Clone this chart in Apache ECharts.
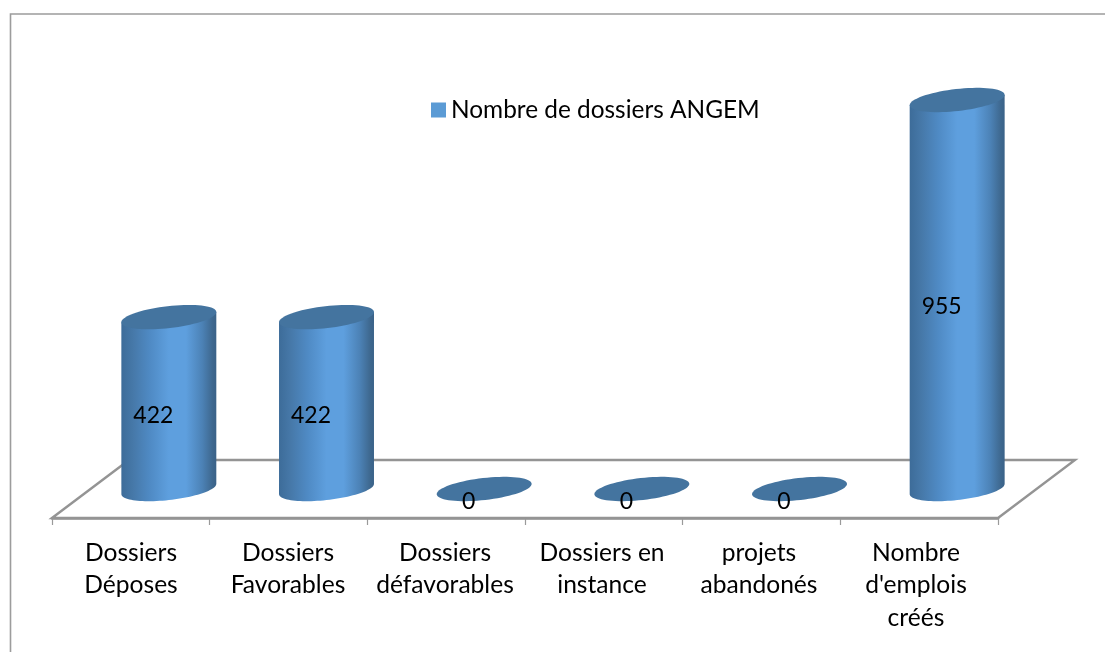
<!DOCTYPE html>
<html><head><meta charset="utf-8">
<style>html,body{margin:0;padding:0;background:#fff}#c{width:1105px;height:652px}</style>
<script src="https://cdn.jsdelivr.net/npm/echarts@6/dist/echarts.min.js"></script>
</head><body><div id="c"></div>
<script>
const categories = ["Dossiers\nDéposes","Dossiers\nFavorables","Dossiers\ndéfavorables","Dossiers en\ninstance","projets\nabandonés","Nombre\nd'emplois\ncréés"];
const values = [422,422,0,0,0,955];
const seriesName = "Nombre de dossiers ANGEM";
const FONT = "Lato, Carlito, sans-serif";

const chart = echarts.init(document.getElementById('c'), null, {renderer:'canvas'});

function ellipsePoint(cx, cy, a, b, th, t){
  return [cx + a*Math.cos(t)*Math.cos(th) - b*Math.sin(t)*Math.sin(th),
          cy + a*Math.cos(t)*Math.sin(th) + b*Math.sin(t)*Math.cos(th)];
}
function renderCylinder(params, api){
  const idx = api.value(0), v = api.value(1);
  const top = api.coord([idx, v]), base = api.coord([idx, 0]);
  const band = api.size([1,0])[0];
  const a = band*0.303, b = 11, th = -6.5*Math.PI/180;
  const t0 = Math.atan2(-b*Math.sin(th), a*Math.cos(th));
  const ring = [];
  for(let i=0;i<72;i++) ring.push(ellipsePoint(top[0],top[1],a,b,th,i/72*2*Math.PI));
  const children = [];
  if(v>0){
    const body = [];
    body.push(ellipsePoint(top[0],top[1],a,b,th,t0));
    for(let i=0;i<=48;i++) body.push(ellipsePoint(base[0],base[1],a,b,th,t0+i/48*Math.PI));
    body.push(ellipsePoint(top[0],top[1],a,b,th,t0+Math.PI));
    children.push({type:'polygon',shape:{points:body},style:{
      fill:new echarts.graphic.LinearGradient(0,0,1,0,[
        {offset:0,color:'#3d6c99'},{offset:0.12,color:'#4678a8'},{offset:0.3,color:'#4f8ac4'},
        {offset:0.5,color:'#5e9fde'},{offset:0.68,color:'#5e9fde'},{offset:0.85,color:'#4c82b6'},
        {offset:0.96,color:'#3e688f'},{offset:1,color:'#3a6288'}])}});
  }
  children.push({type:'polygon',shape:{points:ring},style:{fill:'#44749f'}});
  children.push({type:'text',style:{text:String(v),x:top[0]-15.5,y:(top[1]+base[1])/2+12.5,
    align:'center',verticalAlign:'middle',fill:'#000',font:'23px '+FONT}});
  return {type:'group',children};
}
function renderFloor(params){
  const c = params.coordSys, dx=77, dy=58;
  const fy = c.y+c.height, L=c.x, R=c.x+c.width;
  return {type:'group',silent:true,children:[
    {type:'polygon',shape:{points:[[L,fy],[L+dx,fy-dy],[R+dx,fy-dy],[R,fy]]},
     style:{fill:'#fff',stroke:'#949494',lineWidth:2.4}}
  ]};
}

chart.setOption({
  animation:false,
  backgroundColor:'#fff',
  textStyle:{fontFamily:FONT},
  legend:{data:[seriesName],left:426,top:93,icon:'rect',itemWidth:15,itemHeight:15,itemGap:6,
    textStyle:{fontSize:24.4,color:'#000',fontFamily:FONT,padding:[0,0,0,0]}},
  grid:[
    {left:52,width:946,top:100,height:418},
    {left:90,width:946,top:100,height:389},
    {left:52.5,width:942,top:100,height:418}
  ],
  xAxis:[
    {type:'category',gridIndex:0,data:categories,
      axisLine:{lineStyle:{color:'#949494',width:2.6}},
      axisTick:{show:true,length:7,alignWithLabel:false,lineStyle:{color:'#9a9a9a',width:1.2}},
      axisLabel:{show:false}},
    {type:'category',gridIndex:1,data:categories,show:false},
    {type:'category',gridIndex:2,data:categories,
      axisLine:{show:false},axisTick:{show:false},
      axisLabel:{interval:0,margin:18.5,color:'#000',fontSize:24.6,lineHeight:32.5,fontFamily:FONT,hideOverlap:false,verticalAlign:'top'}}
  ],
  yAxis:[
    {type:'value',gridIndex:0,show:false,min:0,max:955,splitLine:{show:false}},
    {type:'value',gridIndex:1,show:false,min:0,max:955,splitLine:{show:false}},
    {type:'value',gridIndex:2,show:false,min:0,max:955,splitLine:{show:false}}
  ],
  graphic:[{type:'polyline',silent:true,z:0,shape:{points:[[10.5,652],[10.5,14],[1105,14]]},
    style:{stroke:'#9c9c9c',lineWidth:1.6,fill:null}}],
  series:[
    {type:'custom',name:'floor',xAxisIndex:0,yAxisIndex:0,data:[[0,0]],renderItem:renderFloor,clip:false,z:1,silent:true},
    {type:'custom',name:seriesName,xAxisIndex:1,yAxisIndex:1,itemStyle:{color:'#5b9bd5'},clip:false,z:3,
      data:values.map((v,i)=>[i,v]),encode:{x:0,y:1},renderItem:renderCylinder}
  ]
});
</script></body></html>
